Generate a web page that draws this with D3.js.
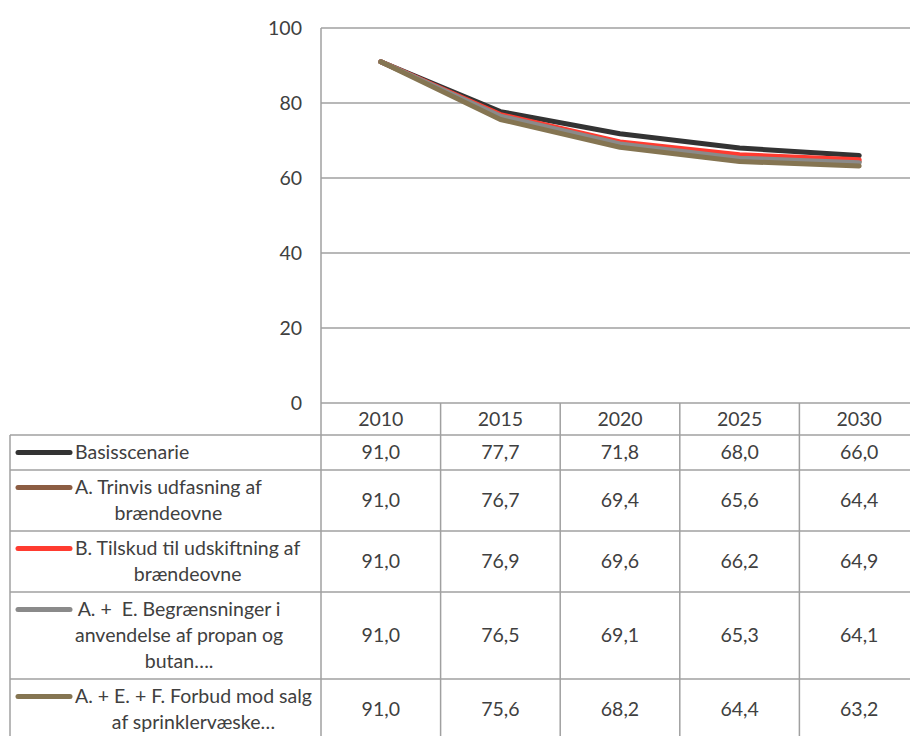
<!DOCTYPE html>
<html>
<head>
<meta charset="utf-8">
<script src="https://cdn.jsdelivr.net/npm/d3@7"></script>
<style>
  html, body { margin: 0; padding: 0; background: #fff; }
  svg text { font-family: Lato, "Liberation Sans", sans-serif; fill: #404040; white-space: pre; }
</style>
</head>
<body>
<svg id="chart" width="910" height="736"></svg>
<script>
// Years shown on the category axis and as table header
const years = ["2010", "2015", "2020", "2025", "2030"];

// Scenario names, split into the lines they are shown on in the table
const seriesLabels = [
  ["Basisscenarie"],
  ["A. Trinvis udfasning af", "brændeovne"],
  ["B. Tilskud til udskiftning af", "brændeovne"],
  ["A. +  E. Begrænsninger i", "anvendelse af propan og", "butan…."],
  ["A. + E. + F. Forbud mod salg", "af sprinklervæske…"]
];

// Values per scenario, one per year
const basis      = [91.0, 77.7, 71.8, 68.0, 66.0];
const scenarioA  = [91.0, 76.7, 69.4, 65.6, 64.4];
const scenarioB  = [91.0, 76.9, 69.6, 66.2, 64.9];
const scenarioAE = [91.0, 76.5, 69.1, 65.3, 64.1];
const scenarioAEF = [91.0, 75.6, 68.2, 64.4, 63.2];
const seriesValues = [basis, scenarioA, scenarioB, scenarioAE, scenarioAEF];

const seriesColors = ["#333333", "#8c5d43", "#ff3b30", "#8a8a8a", "#857552"];

const yTicks = [0, 20, 40, 60, 80, 100];

const svg = d3.select("#chart");
const fontSize = 19.5;
const gridColor = "#a0a0a0";

const plotLeft = 321, plotRight = 919, plotTop = 28, plotBottom = 403;
const tableLeft = 10;

const x = d3.scaleBand().domain(years).range([plotLeft, plotRight]);
const y = d3.scaleLinear().domain([0, 100]).range([plotBottom, plotTop]);

// Horizontal gridlines and value axis labels
const yAxis = d3.axisLeft(y).tickValues(yTicks).tickSize(0).tickPadding(19)
  .tickFormat(d3.format("d"));
const yg = svg.append("g").attr("transform", `translate(${plotLeft},0)`).call(yAxis);
yg.select(".domain").remove();
yg.selectAll("text").attr("font-size", fontSize).attr("font-family", null)
  .attr("fill", null).attr("dy", "0.35em");

svg.append("g").selectAll("line").data(yTicks).join("line")
  .attr("x1", plotLeft).attr("x2", plotRight)
  .attr("y1", d => y(d)).attr("y2", d => y(d))
  .attr("stroke", gridColor).attr("stroke-width", 1.5);

// Table geometry: header row then one row per scenario
const lineStep = 26;
const headerBottom = 435;
const rowTops = [];
let acc = headerBottom;
seriesLabels.forEach(lines => {
  rowTops.push(acc);
  acc += 9 + lineStep * lines.length;
});
const tableBottom = acc;

const grid = svg.append("g").attr("stroke", gridColor).attr("stroke-width", 1.5);
// row separators
grid.selectAll("line.h").data([headerBottom, ...rowTops.slice(1), tableBottom]).join("line")
  .attr("class", "h")
  .attr("x1", tableLeft).attr("x2", plotRight)
  .attr("y1", d => d).attr("y2", d => d);
// left table edge
grid.append("line").attr("x1", tableLeft).attr("x2", tableLeft)
  .attr("y1", headerBottom).attr("y2", tableBottom);
// value axis line continuing through the table
grid.append("line").attr("x1", plotLeft).attr("x2", plotLeft)
  .attr("y1", plotTop).attr("y2", tableBottom);
// column separators
grid.selectAll("line.v").data(years).join("line")
  .attr("class", "v")
  .attr("x1", d => x(d) + x.bandwidth()).attr("x2", d => x(d) + x.bandwidth())
  .attr("y1", plotBottom).attr("y2", tableBottom);

// Header labels (years)
svg.append("g").selectAll("text").data(years).join("text")
  .attr("x", d => x(d) + x.bandwidth() / 2)
  .attr("y", (plotBottom + headerBottom) / 2)
  .attr("dy", "0.35em")
  .attr("text-anchor", "middle")
  .attr("font-size", fontSize)
  .text(d => d);

const fmt = v => d3.format(".1f")(v).replace(".", ",");

// Rows: legend key, scenario name, values
seriesLabels.forEach((lines, i) => {
  const top = rowTops[i];
  const h = 9 + lineStep * lines.length;
  const mid = top + h / 2;
  const firstLineY = mid - (lines.length - 1) * lineStep / 2;
  const row = svg.append("g");

  row.append("line")
    .attr("x1", 18).attr("x2", 70)
    .attr("y1", firstLineY).attr("y2", firstLineY)
    .attr("stroke", seriesColors[i]).attr("stroke-width", 5)
    .attr("stroke-linecap", "round");

  const texts = row.selectAll("text.lbl").data(lines).join("text")
    .attr("class", "lbl")
    .attr("y", (d, k) => firstLineY + k * lineStep)
    .attr("dy", "0.35em")
    .attr("font-size", fontSize)
    .attr("text-anchor", "middle")
    .text(d => d);
  let maxW = 0;
  texts.each(function () { maxW = Math.max(maxW, this.getComputedTextLength()); });
  texts.attr("x", 75 + maxW / 2);

  row.selectAll("text.val").data(seriesValues[i]).join("text")
    .attr("class", "val")
    .attr("x", (d, k) => x(years[k]) + x.bandwidth() / 2)
    .attr("y", mid)
    .attr("dy", "0.35em")
    .attr("text-anchor", "middle")
    .attr("font-size", fontSize)
    .text(d => fmt(d));
});

// Scenario lines, drawn in series order so later ones lie on top
const line = d3.line()
  .x((d, k) => x(years[k]) + x.bandwidth() / 2)
  .y(d => y(d));

svg.append("g").selectAll("path").data(seriesValues).join("path")
  .attr("d", d => line(d))
  .attr("fill", "none")
  .attr("stroke", (d, i) => seriesColors[i])
  .attr("stroke-width", 5)
  .attr("stroke-linecap", "round")
  .attr("stroke-linejoin", "round");
</script>
</body>
</html>
